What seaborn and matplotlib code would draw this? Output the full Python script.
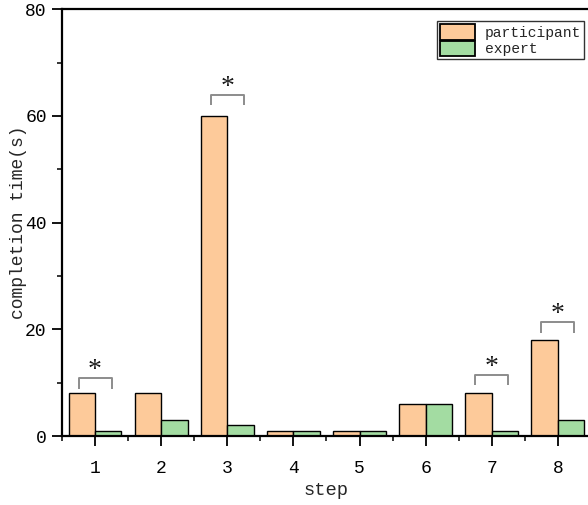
import numpy as np
import pandas as pd
import matplotlib
matplotlib.use("Agg")
import matplotlib.pyplot as plt
import seaborn as sns
from matplotlib.patches import Patch
from matplotlib.ticker import MultipleLocator, FixedLocator

# Completion time per step (seconds)
steps = ["1", "2", "3", "4", "5", "6", "7", "8"]
participant = [8, 8, 60, 1, 1, 6, 8, 18]
expert = [1, 3, 2, 1, 1, 6, 1, 3]
# Height of the significance bracket for each step (None = not significant)
bracket_y = [10.9, None, 64.0, None, None, None, 11.5, 21.3]
groups = ["participant", "expert"]
colors = ["#FDCA9A", "#A3DCA2"]

df = pd.DataFrame({
    "step": steps * 2,
    "time": participant + expert,
    "group": [groups[0]] * len(steps) + [groups[1]] * len(steps),
})

sns.set_style("ticks")
plt.rcParams["font.family"] = ["Liberation Mono", "DejaVu Sans"]

fig = plt.figure(figsize=(5.88, 5.05), dpi=100)
ax = fig.add_axes([0.1054, 0.1366, 0.8996, 0.845])

sns.barplot(data=df, x="step", y="time", hue="group", hue_order=groups,
            palette=colors, saturation=1, edgecolor="black", linewidth=1.0,
            width=0.8, errorbar=None, legend=False, ax=ax)

ax.set_xlim(-0.5, 7.5)
ax.set_ylim(0, 80)
ax.yaxis.set_major_locator(MultipleLocator(20))
ax.yaxis.set_minor_locator(MultipleLocator(10))
ax.xaxis.set_minor_locator(FixedLocator(np.arange(-0.5, 8.0, 1.0)))
ax.tick_params(which="major", direction="out", length=7, width=1.3,
               labelsize=13, colors="black")
ax.tick_params(axis="x", which="major", pad=10)
ax.tick_params(axis="y", which="major", pad=4)
ax.tick_params(which="minor", direction="out", length=3.5, width=1.3)

for side in ["left", "bottom", "top"]:
    ax.spines[side].set_visible(True)
    ax.spines[side].set_linewidth(1.6)
    ax.spines[side].set_color("black")
ax.spines["right"].set_visible(False)

ax.set_xlabel("step", fontsize=13.5, labelpad=4)
ax.set_ylabel("completion time(s)", fontsize=13, labelpad=-1)

# Significance brackets between the two bars of a step
star_fs = 20
for i, top in enumerate(bracket_y):
    if top is None:
        continue
    x0, x1 = i - 0.25, i + 0.25
    ax.plot([x0, x0, x1, x1], [top - 2.0, top, top, top - 2.0],
            color="#8C8C8C", lw=1.4, solid_capstyle="butt")
    ax.annotate("*", xy=(i, top + 2.1), xytext=(0, -0.37 * star_fs),
                textcoords="offset points", ha="center", va="baseline",
                fontsize=star_fs, color="#1A1A1A",
                family=["Liberation Serif", "DejaVu Serif"])

handles = [Patch(facecolor=c, edgecolor="black", linewidth=1.3, label=g)
           for c, g in zip(colors, groups)]
leg = ax.legend(handles=handles, loc="upper right",
                bbox_to_anchor=(584 / 588, 1 - 21 / 505),
                bbox_transform=fig.transFigure, fontsize=10.5,
                frameon=True, fancybox=False, borderpad=0.2,
                labelspacing=0.05, handlelength=2.4, handleheight=1.3,
                handletextpad=0.7, borderaxespad=0)
leg.get_frame().set_edgecolor("black")
leg.get_frame().set_linewidth(1.0)

fig.savefig("out.png", dpi=100)
